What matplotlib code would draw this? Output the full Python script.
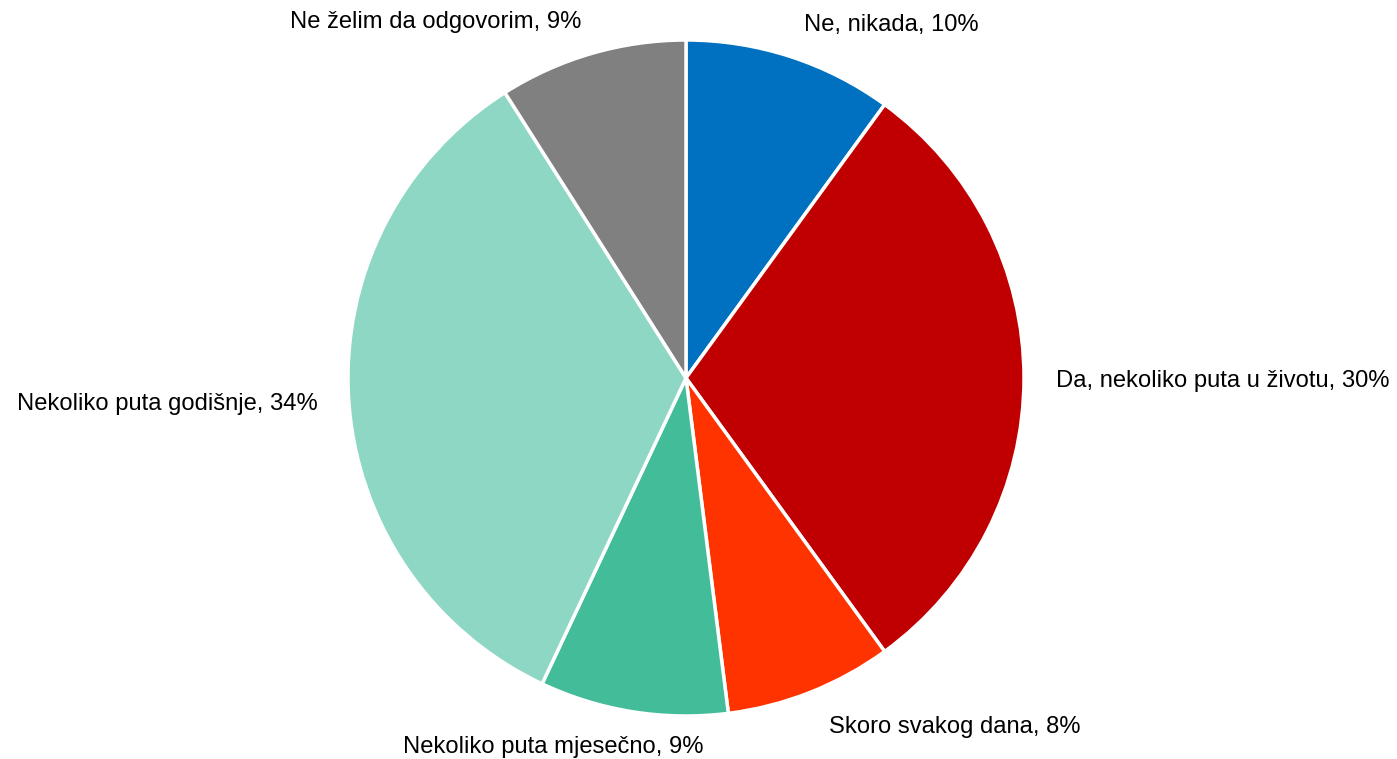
import matplotlib
matplotlib.use("Agg")
import matplotlib.pyplot as plt
import numpy as np

labels = ["Ne, nikada", "Da, nekoliko puta u životu", "Skoro svakog dana",
          "Nekoliko puta mjesečno", "Nekoliko puta godišnje", "Ne želim da odgovorim"]
values = [10, 30, 8, 9, 34, 9]
colors = ["#0070C0", "#C00000", "#FF3300", "#43BC9A", "#8ED7C4", "#808080"]

# label placement (relative to pie radius) and alignment
label_pos = [(0.607, 1.044, "center"), (1.095, -0.009, "left"), (0.423, -1.033, "left"),
             (-0.393, -1.092, "center"), (-1.089, -0.077, "right"), (-0.740, 1.053, "center")]

plt.rcParams['font.family'] = ['Liberation Sans', 'DejaVu Sans']

W, H = 1397, 759
cx, cy, R = 686, 378, 338
fig = plt.figure(figsize=(W / 100, H / 100), dpi=100)
ax = fig.add_axes([0, 0, 1, 1])
ax.pie(values, colors=colors, startangle=90, counterclock=False,
       wedgeprops=dict(edgecolor="white", linewidth=2.5), radius=1)
ax.set_xlim(-cx / R, (W - cx) / R)
ax.set_ylim(-(H - cy) / R, cy / R)
ax.set_aspect('auto')
ax.axis('off')

for lab, v, (x, y, ha) in zip(labels, values, label_pos):
    ax.text(x, y, f"{lab}, {v}%", ha=ha, va="center", fontsize=17.1, color="#000000")

fig.savefig("out.png", dpi=100)
